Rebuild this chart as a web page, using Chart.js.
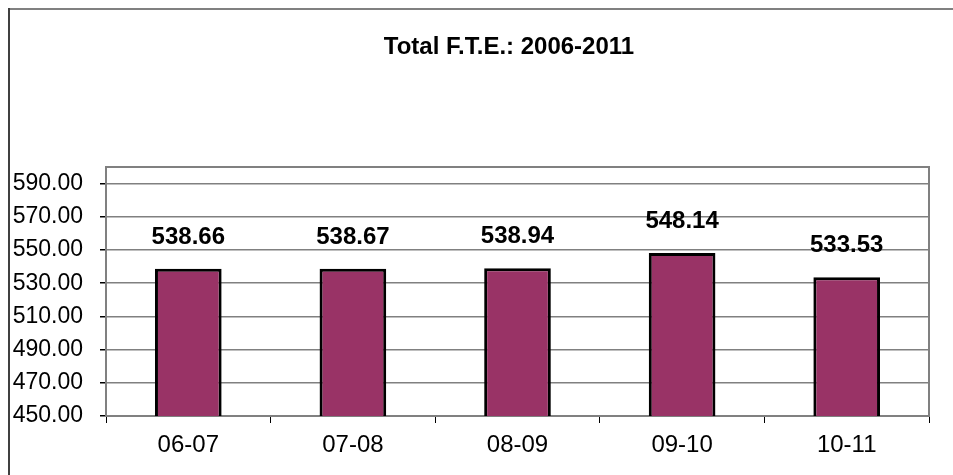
<!DOCTYPE html>
<html>
<head>
<meta charset="utf-8">
<script src="https://cdn.jsdelivr.net/npm/chart.js@4/dist/chart.umd.min.js"></script>
<style>
  html, body { margin: 0; padding: 0; background: #fff; }
  #wrap { width: 953px; height: 475px; position: relative; }
</style>
</head>
<body>
<div id="wrap"><canvas id="graph1"></canvas></div>
<script>
const categories = ['06-07', '07-08', '08-09', '09-10', '10-11'];
const fteValues = [538.66, 538.67, 538.94, 548.14, 533.53];
const yTickValues = [450, 470, 490, 510, 530, 550, 570, 590];
const chartTitle = 'Total F.T.E.: 2006-2011';

const fontFamily = '"Liberation Sans", Arial, sans-serif';

// frame, plot border, title and value labels
const decor = {
    id: 'decor',
    beforeDatasetsDraw(chart) {
        const ctx = chart.ctx, a = chart.chartArea;
        ctx.save();
        ctx.strokeStyle = '#808080';
        ctx.lineWidth = 2;
        ctx.strokeRect(a.left, a.top, a.right - a.left, a.bottom - a.top);
        ctx.restore();
    },
    afterDraw(chart) {
        const ctx = chart.ctx;
        ctx.save();
        // outer frame
        ctx.fillStyle = '#808080';
        ctx.fillRect(8, 8, 945, 2);
        ctx.fillStyle = '#404040';
        ctx.fillRect(8, 8, 2, 467);
        // title
        ctx.fillStyle = '#000';
        ctx.font = 'bold 24px ' + fontFamily;
        ctx.textAlign = 'center';
        ctx.textBaseline = 'middle';
        ctx.fillText(chartTitle, 509, 47);
        // values
        ctx.textBaseline = 'alphabetic';
        chart.getDatasetMeta(0).data.forEach((bar, i) => {
            ctx.fillText(fteValues[i].toFixed(2), bar.x, bar.y - 25);
        });
        ctx.restore();
    }
};

new Chart(document.querySelector('#graph1'), {
    type: 'bar',
    data: {
        labels: categories,
        datasets: [{
            data: fteValues,
            backgroundColor: '#993366',
            borderColor: '#000000',
            borderWidth: 3,
            borderSkipped: false,
            categoryPercentage: 1,
            barPercentage: 0.405
        }]
    },
    plugins: [decor],
    options: {
        responsive: true,
        maintainAspectRatio: false,
        animation: false,
        layout: { padding: { left: 10, right: 24, top: 167, bottom: 0 } },
        plugins: {
            legend: { display: false },
            title: { display: false },
            tooltip: { enabled: false }
        },
        scales: {
            x: {
                afterFit(scale) { scale.height = 59; },
                grid: {
                    offset: true,
                    drawOnChartArea: false,
                    drawTicks: true,
                    tickLength: 7,
                    color: '#000'
                },
                border: { color: '#000', width: 2 },
                ticks: {
                    color: '#000',
                    padding: 8,
                    font: { family: fontFamily, size: 24 }
                }
            },
            y: {
                min: 450,
                max: 600,
                afterFit(scale) { scale.width = 96; },
                afterBuildTicks(scale) {
                    scale.ticks = yTickValues.map(v => ({ value: v }));
                },
                grid: {
                    color: '#808080',
                    lineWidth: 1.5,
                    tickLength: 6,
                    tickColor: '#000'
                },
                border: { color: '#000', width: 2 },
                ticks: {
                    color: '#000',
                    padding: 17,
                    font: { family: fontFamily, size: 23 },
                    callback: v => Number(v).toFixed(2)
                }
            }
        }
    }
});
</script>
</body>
</html>
